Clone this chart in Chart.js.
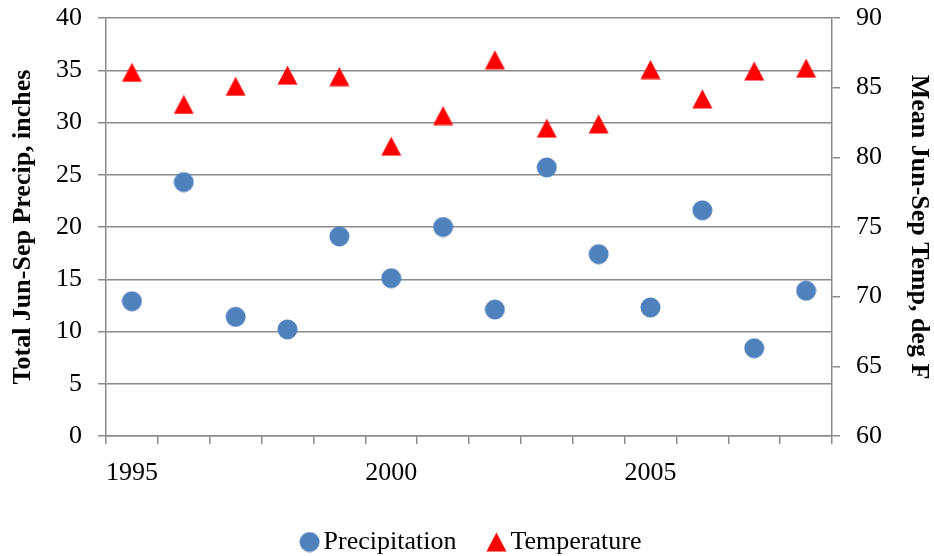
<!DOCTYPE html>
<html>
<head>
<meta charset="utf-8">
<script src="https://cdn.jsdelivr.net/npm/chart.js@4.4.0/dist/chart.umd.min.js"></script>
<style>
  html, body { margin: 0; padding: 0; background: #fff; }
  canvas { display: block; }
</style>
</head>
<body>
<canvas id="chart" width="934" height="556"></canvas>
<script>
const years = ["1995", "1996", "1997", "1998", "1999", "2000", "2001", "2002", "2003", "2004", "2005", "2006", "2007", "2008"];
const precipitation = [12.9, 24.3, 11.4, 10.2, 19.1, 15.1, 20.0, 12.1, 25.7, 17.4, 12.3, 21.6, 8.4, 13.9];
const temperature = [86.1, 83.8, 85.1, 85.9, 85.8, 80.8, 83.0, 87.0, 82.1, 82.4, 86.3, 84.2, 86.2, 86.4];
const yearLabels = ["1995", "2000", "2005"];

const gridColor = "#8a8a8a";
const font = "'Liberation Serif', 'Times New Roman', serif";
const legendPadding = 39;

// marker images, so circle and triangle sit centred on the value like Excel's
function circleMarker(color) {
    const c = document.createElement("canvas");
    c.width = 21; c.height = 21;
    const ctx = c.getContext("2d");
    ctx.fillStyle = color;
    ctx.beginPath();
    ctx.arc(10.5, 10.5, 10, 0, Math.PI * 2);
    ctx.fill();
    return c;
}

function triangleMarker(color) {
    const c = document.createElement("canvas");
    c.width = 21; c.height = 20;
    const ctx = c.getContext("2d");
    ctx.fillStyle = color;
    ctx.beginPath();
    ctx.moveTo(10.5, 0.5);
    ctx.lineTo(20.5, 19.5);
    ctx.lineTo(0.5, 19.5);
    ctx.closePath();
    ctx.fill();
    return c;
}

const circle = circleMarker("#4f81bd");
const triangle = triangleMarker("#ff0000");

// keep the legend row near the bottom edge, a bit right of centre
const legendPlace = {
    id: "legendPlace",
    afterLayout(chart) {
        const legend = chart.legend;
        const dy = (541 - legendPadding - 12) - legend.top;
        legend.top += dy;
        legend.bottom += dy;
        legend.left += 8;
        legend.right += 8;
    }
};

// vertical axes: fixed widths, no extra room for half labels
function fitY(width) {
    return (scale) => {
        scale.width = width;
        scale.paddingTop = 0;
        scale.paddingBottom = 0;
    };
}

Chart.defaults.font.family = font;
Chart.defaults.color = "#000";

new Chart(document.getElementById("chart"), {
    type: "line",
    data: {
        labels: years,
        datasets: [
            {
                label: "Precipitation",
                data: precipitation,
                yAxisID: "y",
                showLine: false,
                pointStyle: circle,
                backgroundColor: "#4f81bd",
                borderColor: "#4f81bd"
            },
            {
                label: "Temperature",
                data: temperature,
                yAxisID: "y2",
                showLine: false,
                pointStyle: triangle,
                backgroundColor: "#ff0000",
                borderColor: "#ff0000"
            }
        ]
    },
    plugins: [legendPlace],
    options: {
        responsive: false,
        animation: false,
        layout: { padding: { top: 18, bottom: 0 } },
        plugins: {
            tooltip: { enabled: false },
            legend: {
                position: "bottom",
                labels: {
                    usePointStyle: true,
                    pointStyleWidth: 2,
                    padding: legendPadding,
                    font: { size: 26, lineHeight: 1 },
                    color: "#000"
                }
            }
        },
        scales: {
            x: {
                type: "category",
                offset: true,
                afterFit: (scale) => { scale.height = 45; },
                grid: {
                    offset: true,
                    drawOnChartArea: false,
                    tickLength: 8,
                    color: gridColor,
                    lineWidth: 1.5
                },
                border: { color: gridColor, width: 1.5 },
                ticks: {
                    autoSkip: false,
                    maxRotation: 0,
                    padding: 14,
                    font: { size: 26 },
                    callback: function (value) {
                        const label = this.getLabelForValue(value);
                        return yearLabels.includes(label) ? label : "";
                    }
                }
            },
            y: {
                position: "left",
                min: 0,
                max: 40,
                afterFit: fitY(106),
                grid: { color: gridColor, lineWidth: 1.5, tickLength: 8 },
                border: { color: gridColor, width: 1.5 },
                ticks: { stepSize: 5, padding: 16, font: { size: 26 } },
                title: {
                    display: true,
                    text: "Total Jun-Sep Precip, inches",
                    font: { size: 26, weight: "bold" },
                    padding: { top: 8, bottom: 0 }
                }
            },
            y2: {
                position: "right",
                min: 60,
                max: 90,
                afterFit: fitY(102),
                grid: { drawOnChartArea: false, color: gridColor, lineWidth: 1.5, tickLength: 8 },
                border: { color: gridColor, width: 1.5 },
                ticks: { stepSize: 5, padding: 16, font: { size: 26 } },
                title: {
                    display: true,
                    text: "Mean Jun-Sep Temp, deg F",
                    font: { size: 26, weight: "bold" },
                    padding: { top: 0, bottom: 0 }
                }
            }
        }
    }
});
</script>
</body>
</html>
